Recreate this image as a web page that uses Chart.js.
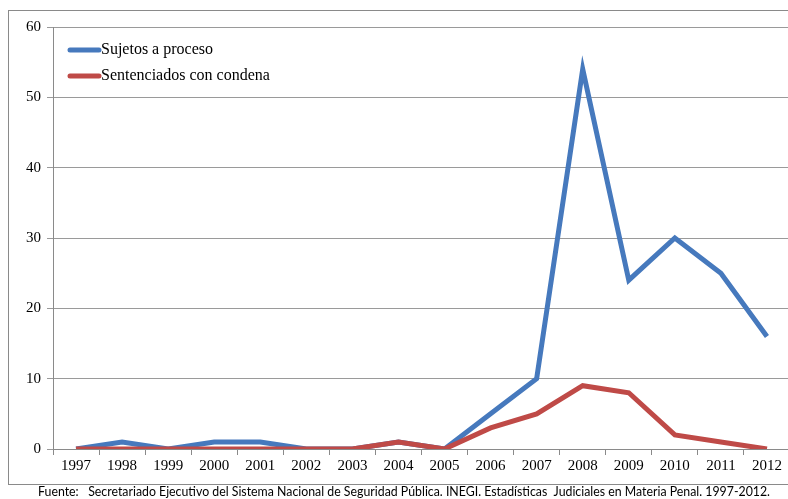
<!DOCTYPE html>
<html>
<head>
<meta charset="utf-8">
<script src="https://cdn.jsdelivr.net/npm/chart.js@4"></script>
<style>
  html, body { margin: 0; padding: 0; background: #fff; overflow: hidden; }
  #wrap { position: relative; width: 800px; height: 499px; }
</style>
</head>
<body>
<div id="wrap"><canvas id="chart" width="800" height="499"></canvas></div>
<script>
// data
const years = ['1997','1998','1999','2000','2001','2002','2003','2004','2005','2006','2007','2008','2009','2010','2011','2012'];
const sujetos = [0, 1, 0, 1, 1, 0, 0, 1, 0, 5, 10, 54, 24, 30, 25, 16];
const sentenciados = [0, 0, 0, 0, 0, 0, 0, 1, 0, 3, 5, 9, 8, 2, 1, 0];
const seriesNames = ['Sujetos a proceso', 'Sentenciados con condena'];
const yTicks = [0, 10, 20, 30, 40, 50, 60];
const footer = 'Fuente:   Secretariado Ejecutivo del Sistema Nacional de Seguridad Pública. INEGI. Estadísticas  Judiciales en Materia Penal. 1997-2012.';

const blue = '#4679BD';
const red = '#BF4A47';
const serif = "'Liberation Serif', 'DejaVu Serif', serif";

// frame, inner legend and source line
const decorations = {
    id: 'decorations',
    afterDraw(chart) {
        const ctx = chart.ctx;
        ctx.save();
        ctx.strokeStyle = '#8a8a8a';
        ctx.lineWidth = 1;
        ctx.strokeRect(8.5, 10.5, 800, 474);

        // legend
        const colors = [blue, red];
        ctx.font = '16px ' + serif;
        ctx.textBaseline = 'middle';
        seriesNames.forEach((name, i) => {
            const y = 50 + i * 26;
            ctx.strokeStyle = colors[i];
            ctx.lineWidth = 5;
            ctx.lineCap = 'round';
            ctx.beginPath();
            ctx.moveTo(70, y);
            ctx.lineTo(99, y);
            ctx.stroke();
            ctx.fillStyle = '#000';
            ctx.fillText(name, 101, y);
        });

        // source
        ctx.font = '13px Lato, sans-serif';
        ctx.fillStyle = '#000';
        ctx.textBaseline = 'middle';
        const w = ctx.measureText(footer).width;
        const target = 732;
        ctx.translate(38, 492);
        ctx.scale(target / w, 1);
        ctx.fillText(footer, 0, 0);
        ctx.restore();
    }
};

const ctx = document.getElementById('chart').getContext('2d');
const chart = new Chart(ctx, {
    type: 'line',
    data: {
        labels: years,
        datasets: [{
            label: seriesNames[0],
            data: sujetos,
            borderColor: blue,
            borderWidth: 5,
            pointRadius: 0,
            tension: 0,
            order: 1
        }, {
            label: seriesNames[1],
            data: sentenciados,
            borderColor: red,
            borderWidth: 5,
            pointRadius: 0,
            tension: 0,
            order: 0
        }]
    },
    options: {
        responsive: false,
        animation: false,
        devicePixelRatio: 1,
        layout: { padding: { top: 27, right: 10, bottom: 14, left: 0 } },
        plugins: {
            legend: { display: false },
            tooltip: { enabled: false }
        },
        scales: {
            x: {
                offset: true,
                grid: {
                    offset: true,
                    drawOnChartArea: false,
                    drawTicks: true,
                    tickLength: 6,
                    color: '#8a8a8a'
                },
                border: { color: '#8a8a8a' },
                ticks: {
                    color: '#000',
                    font: { family: serif, size: 15 },
                    padding: 2,
                    maxRotation: 0,
                    autoSkip: false
                },
                afterFit(scale) { scale.height = 36; }
            },
            y: {
                min: 0,
                max: 60,
                afterBuildTicks(scale) {
                    scale.ticks = yTicks.map(v => ({ value: v }));
                },
                grid: {
                    color: '#9a9a9a',
                    tickLength: 6
                },
                border: { color: '#8a8a8a' },
                ticks: {
                    color: '#000',
                    font: { family: serif, size: 15 },
                    padding: 6
                },
                afterFit(scale) { scale.width = 53; }
            }
        }
    },
    plugins: [decorations]
});
</script>
</body>
</html>
